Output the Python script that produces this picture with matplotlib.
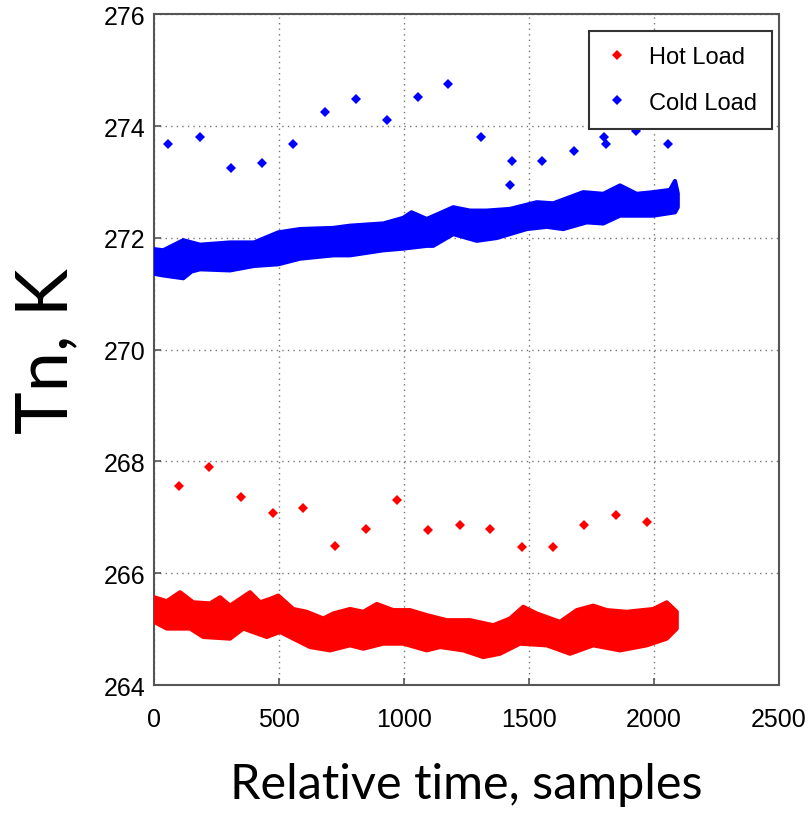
import numpy as np
import matplotlib.pyplot as plt
from matplotlib.lines import Line2D

# cold load: dense band, upper and lower edges
cold_top_x = [0, 37, 117, 184, 304, 400, 497, 584, 717, 784, 917, 997, 1030,
              1091, 1197, 1264, 1331, 1424, 1531, 1597, 1717, 1797, 1864, 1931,
              1997, 2064, 2084, 2095]
cold_top_y = [271.80, 271.78, 271.96, 271.88, 271.92, 271.92, 272.10, 272.16,
              272.18, 272.22, 272.26, 272.36, 272.46, 272.34, 272.55, 272.49,
              272.49, 272.52, 272.64, 272.62, 272.82, 272.79, 272.94, 272.79,
              272.82, 272.86, 273.02, 272.80]
cold_bot_x = [0, 37, 117, 150, 184, 304, 400, 497, 584, 717, 784, 917, 997,
              1091, 1117, 1197, 1291, 1371, 1491, 1571, 1637, 1731, 1797, 1864,
              1997, 2084, 2095]
cold_bot_y = [271.36, 271.33, 271.28, 271.40, 271.44, 271.42, 271.50, 271.53,
              271.63, 271.69, 271.69, 271.78, 271.81, 271.86, 271.86, 272.07,
              271.95, 272.00, 272.16, 272.20, 272.16, 272.28, 272.26, 272.40,
              272.40, 272.46, 272.55]

# hot load: dense band edges
hot_top_x = [0, 51, 104, 157, 224, 264, 304, 384, 424, 464, 497, 557, 611,
             677, 717, 784, 837, 891, 957, 1024, 1091, 1171, 1264, 1357, 1424,
             1477, 1531, 1624, 1691, 1757, 1811, 1891, 1997, 2051, 2091]
hot_top_y = [265.57, 265.50, 265.66, 265.48, 265.46, 265.57, 265.42, 265.66,
             265.48, 265.54, 265.60, 265.36, 265.31, 265.19, 265.28, 265.36,
             265.31, 265.45, 265.34, 265.34, 265.25, 265.16, 265.16, 265.07,
             265.19, 265.40, 265.28, 265.13, 265.34, 265.42, 265.34, 265.31,
             265.36, 265.48, 265.31]
hot_bot_x = [0, 51, 144, 197, 304, 357, 451, 504, 557, 624, 704, 784, 837,
             917, 997, 1091, 1144, 1237, 1317, 1384, 1464, 1571, 1664, 1757,
             1864, 1971, 2051, 2091]
hot_bot_y = [265.13, 265.01, 265.01, 264.86, 264.83, 265.01, 264.86, 264.95,
             264.83, 264.68, 264.62, 264.71, 264.65, 264.74, 264.74, 264.62,
             264.68, 264.62, 264.50, 264.56, 264.74, 264.71, 264.56, 264.71,
             264.62, 264.71, 264.83, 265.01]

# isolated outliers
cold_out_x = [57, 184, 308, 431, 557, 683, 807, 931, 1057, 1177, 1307, 1431,
              1425, 1553, 1680, 1801, 1807, 1928, 2055]
cold_out_y = [273.68, 273.81, 273.25, 273.35, 273.68, 274.25, 274.48, 274.11,
              274.52, 274.75, 273.81, 273.38, 272.94, 273.37, 273.55, 273.81,
              273.68, 273.91, 273.68]
hot_out_x = [101, 221, 348, 475, 595, 724, 848, 971, 1097, 1224, 1344, 1471,
             1597, 1720, 1847, 1971]
hot_out_y = [267.57, 267.91, 267.37, 267.07, 267.17, 266.49, 266.80, 267.31,
             266.77, 266.86, 266.79, 266.47, 266.47, 266.86, 267.04, 266.91]

RED = "#ff0000"
BLUE = "#0000ff"


def band(ax, tx, ty, bx, by, color):
    # outline = upper edge left->right, then lower edge right->left
    px = list(tx) + list(bx)[::-1]
    py = list(ty) + list(by)[::-1]
    ax.fill(px, py, color=color, lw=3, joinstyle="round", zorder=3)


fig = plt.figure(figsize=(8.09, 8.37), dpi=100)
ax = fig.add_axes([0.1904, 0.1804, 0.7725, 0.8011])

band(ax, hot_top_x, hot_top_y, hot_bot_x, hot_bot_y, RED)
band(ax, cold_top_x, cold_top_y, cold_bot_x, cold_bot_y, BLUE)
ax.plot(hot_out_x, hot_out_y, "D", color=RED, ms=5, mew=0, zorder=4)
ax.plot(cold_out_x, cold_out_y, "D", color=BLUE, ms=5, mew=0, zorder=4)

ax.set_xlim(0, 2500)
ax.set_ylim(264, 276)
ax.set_xticks(np.arange(0, 2501, 500))
ax.set_yticks(np.arange(264, 277, 2))
ax.grid(True, linestyle=(0, (1, 3)), color="#777777", lw=1.0)
ax.set_axisbelow(True)

for s in ax.spines.values():
    s.set_color("#555555")
    s.set_linewidth(1.5)
ax.tick_params(direction="in", length=5, width=1.2, color="#555555",
               labelsize=18, pad=6, top=False, right=False)
ax.tick_params(axis="x", pad=16)
for lab in ax.get_xticklabels() + ax.get_yticklabels():
    lab.set_fontfamily("Liberation Sans")

ax.set_ylabel("Tn, K", fontsize=52, family="Lato", labelpad=18)
ax.set_xlabel("Relative time, samples", fontsize=35, family="Lato", labelpad=22)

handles = [Line2D([], [], ls="none", marker="D", ms=5, mew=0, color=RED),
           Line2D([], [], ls="none", marker="D", ms=5, mew=0, color=BLUE)]
leg = ax.legend(handles, ["Hot Load", "Cold Load"], loc="upper right",
                bbox_to_anchor=(0.989, 0.976), borderaxespad=0,
                fancybox=False, edgecolor="#333333", framealpha=1,
                prop={"family": "Liberation Sans", "size": 17},
                borderpad=0.65, handlelength=1.1, handletextpad=0.8,
                labelspacing=1.0)
leg.get_frame().set_linewidth(1.5)

fig.savefig("out.png", dpi=100)
